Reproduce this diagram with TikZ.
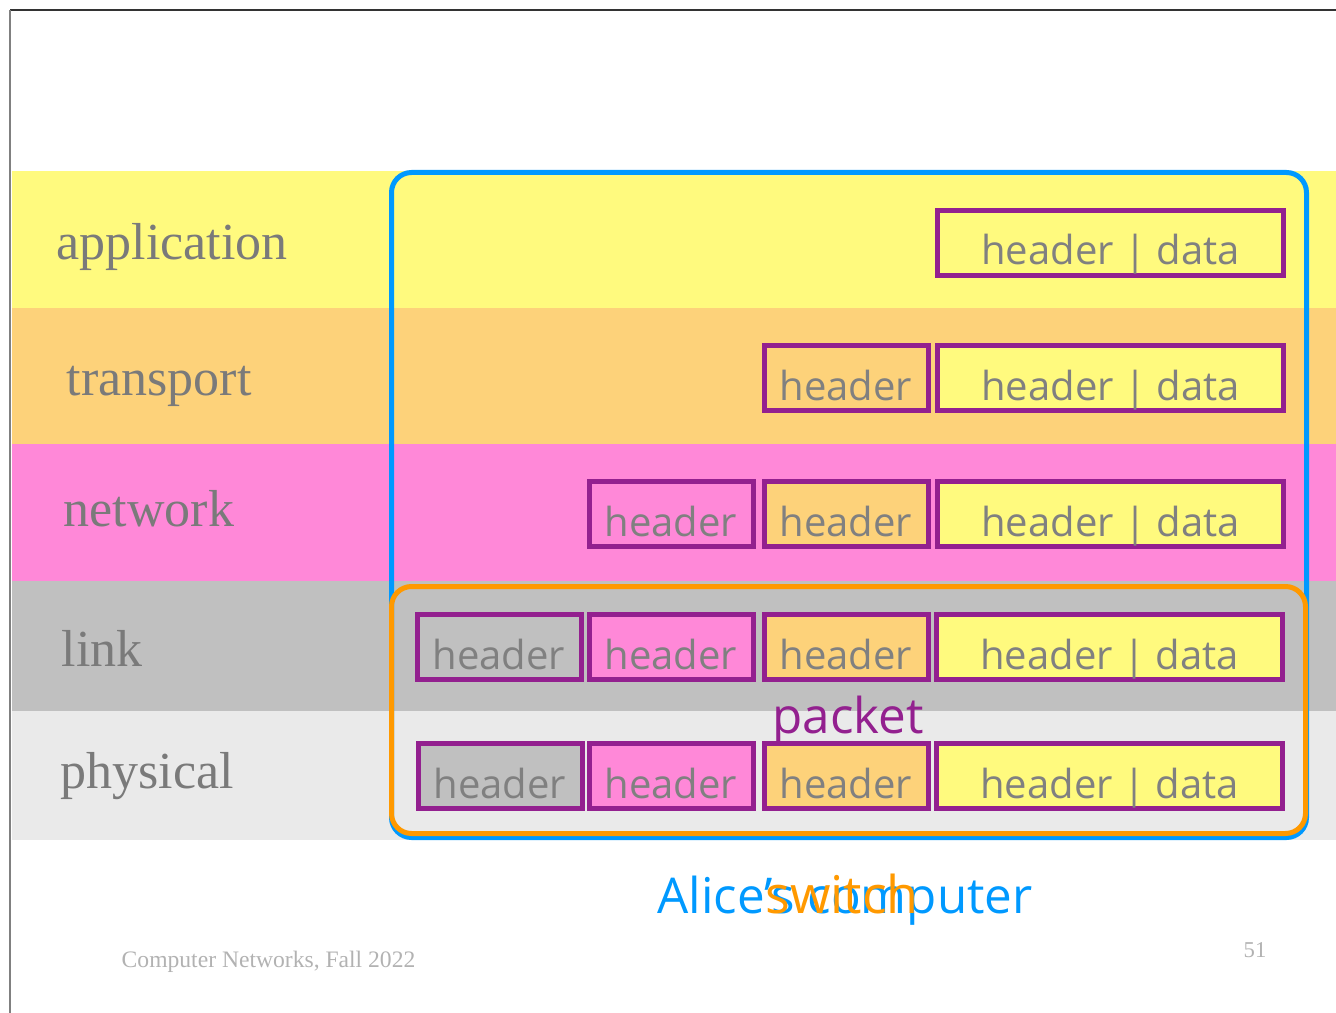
\documentclass[tikz,border=0pt]{standalone}
\usepackage{fontspec}
\setmainfont{Liberation Serif}
\newfontfamily\comicfont{Open Sans}

\definecolor{capaAmar}{RGB}{255,250,126}
\definecolor{capaNar}{RGB}{253,210,122}
\definecolor{capaRosa}{RGB}{255,136,216}
\definecolor{capaGris}{RGB}{192,192,192}
\definecolor{capaClara}{RGB}{234,234,234}
\definecolor{morado}{RGB}{147,32,143}
\definecolor{azul}{RGB}{0,153,255}
\definecolor{naranja}{RGB}{255,153,0}
\definecolor{textogris}{RGB}{128,128,128}

\begin{document}
\begin{tikzpicture}[x=0.75pt,y=-0.75pt,
  caja/.style={draw=morado,line width=3.75pt,minimum height=48.75pt,inner sep=0pt,
    text height=33pt,text depth=0pt,
    font=\comicfont\fontsize{30}{30}\selectfont,text=textogris},
  cab/.style={caja,minimum width=123pt},
  datos/.style={caja,minimum width=259.5pt},
  capa/.style={anchor=base west,font=\fontsize{39}{39}\selectfont,text=textogris!95!black}]

\useasboundingbox (0,0) rectangle (1336,1013);

% Bandas
\fill[capaAmar] (12,171) rectangle (1336,308);
\fill[capaNar] (12,308) rectangle (1336,444);
\fill[capaRosa] (12,444) rectangle (1336,581);
\fill[capaGris] (12,581) rectangle (1336,711);
\fill[capaClara] (12,711) rectangle (1336,840);

% Marco
\draw[black!80,line width=1pt] (10,10) -- (1336,10);
\draw[black!50,line width=1.5pt] (10,10) -- (10,1013);

% Capas
\node[capa] (app) at (52,260) {application};
\node[capa] (trans) at (62,395) {transport};
\node[capa] (net) at (59,526) {network};
\node[capa] (link) at (57,666) {link};
\node[capa] (phys) at (56,788) {physical};

% Computadora y switch
\draw[azul,line width=3.75pt,rounded corners=15pt] (391.5,172.5) rectangle (1306.5,837.5);
\draw[naranja,line width=3.75pt,rounded corners=15pt] (391.5,586.5) rectangle (1305.5,833.5);

% Aplicacion
\node[datos,fill=capaAmar] (d1) at (1110.5,243) {header | data};

% Transporte
\node[datos,fill=capaAmar] (d2) at (1110.5,378) {header | data};
\node[cab,fill=capaNar] (t2) at (846,378) {header};

% Red
\node[datos,fill=capaAmar] (d3) at (1110.5,514) {header | data};
\node[cab,fill=capaNar] (t3) at (846,514) {header};
\node[cab,fill=capaRosa] (n3) at (671,514) {header};

% Enlace
\node[datos,fill=capaAmar] (d4) at (1109.5,647) {header | data};
\node[cab,fill=capaNar] (t4) at (846,647) {header};
\node[cab,fill=capaRosa] (n4) at (671,647) {header};
\node[cab,fill=capaGris] (l4) at (499,647) {header};

% Fisica
\node[datos,fill=capaAmar] (d5) at (1109.5,776) {header | data};
\node[cab,fill=capaNar] (t5) at (846,776) {header};
\node[cab,fill=capaRosa] (n5) at (671,776) {header};
\node[cab,fill=capaGris] (l5) at (500,776) {header};

% Etiquetas
\node[anchor=base,text=morado,font=\comicfont\fontsize{37}{37}\selectfont] (pkt) at (848,733) {packet};
\node[anchor=base,text=azul,font=\comicfont\fontsize{37}{37}\selectfont] (alice) at (845,913) {Alice’s computer};
\node[anchor=base,text=naranja,font=\comicfont\fontsize{39}{39}\selectfont] (sw) at (842,913) {switch};

% Pie
\node[anchor=base west,text=black!30,font=\fontsize{17.7}{17.7}\selectfont] (pie) at (117,967) {Computer Networks, Fall 2022};
\node[anchor=base,text=black!30,font=\fontsize{17}{17}\selectfont] (num) at (1255,957) {51};

\end{tikzpicture}
\end{document}
